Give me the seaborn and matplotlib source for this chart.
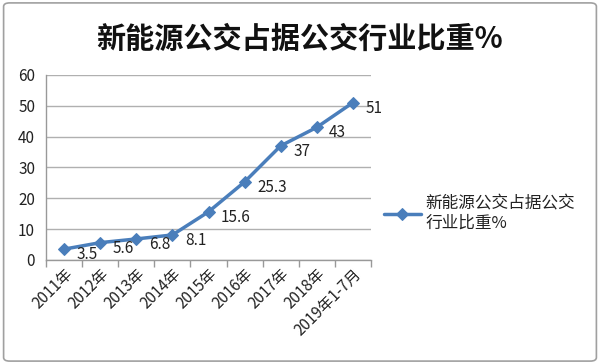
import numpy as np
import pandas as pd
import seaborn as sns
import matplotlib.pyplot as plt
from matplotlib.patches import FancyBboxPatch
from matplotlib.ticker import FixedLocator

years = ['2011年', '2012年', '2013年', '2014年', '2015年', '2016年', '2017年', '2018年', '2019年1-7月']
share = [3.5, 5.6, 6.8, 8.1, 15.6, 25.3, 37, 43, 51]
series_name = '新能源公交占据公交行业比重%'

sns.set_theme(style='white')
plt.rcParams['font.family'] = ['Noto Sans CJK SC', 'DejaVu Sans']

df = pd.DataFrame({'year': years, 'share': share})
line_color = '#4A7EBB'

fig = plt.figure(figsize=(6, 3.64), dpi=100)
ax = fig.add_axes([0.077, 0.286, 0.541, 0.508])

sns.lineplot(data=df, x='year', y='share', color=line_color, linewidth=2.5,
             marker='D', markersize=6.5, markeredgecolor=line_color,
             label='新能源公交占据公交\n行业比重%', ax=ax)

for i, v in enumerate(share):
    ax.annotate(f'{v:g}', (i, v), xytext=(9, -4), textcoords='offset points',
                ha='left', va='center', fontsize=11, color='#222222')

ax.set_xlim(-0.5, len(years) - 0.5)
ax.set_ylim(0, 60)
ax.set_yticks(range(0, 61, 10))
ax.yaxis.grid(True, color='#b0b0b0', linewidth=1)
ax.set_xlabel('')
ax.set_ylabel('')

ax.xaxis.set_minor_locator(FixedLocator(np.arange(-0.5, len(years), 1)))
ax.tick_params(axis='x', which='major', length=0, pad=4)
ax.tick_params(axis='x', which='minor', bottom=True, length=5, width=1, color='#999999', direction='out')
ax.tick_params(axis='y', length=0, labelsize=11, pad=8, labelcolor='#222222')
plt.setp(ax.get_xticklabels(), rotation=45, ha='right', rotation_mode='anchor', fontsize=11, color='#222222')

for side in ['top', 'right']:
    ax.spines[side].set_visible(False)
for side in ['left', 'bottom']:
    ax.spines[side].set_color('#999999')
    ax.spines[side].set_linewidth(1)

leg = ax.legend(loc='center left', bbox_to_anchor=(1.02, 0.25), frameon=False,
                fontsize=12, handlelength=2.2, handletextpad=0.3, borderaxespad=0)
for t in leg.get_texts():
    t.set_color('#222222')

fig.text(0.5, 0.893, series_name, ha='center', va='center', fontsize=21, fontweight='bold', color='#111111')

border = FancyBboxPatch((0.006, 0.008), 0.988, 0.984, boxstyle='round,pad=0,rounding_size=0.01',
                        transform=fig.transFigure, fill=False, edgecolor='#a0a0a0', linewidth=1.2)
fig.patches.append(border)

fig.savefig('out.png', dpi=100)
